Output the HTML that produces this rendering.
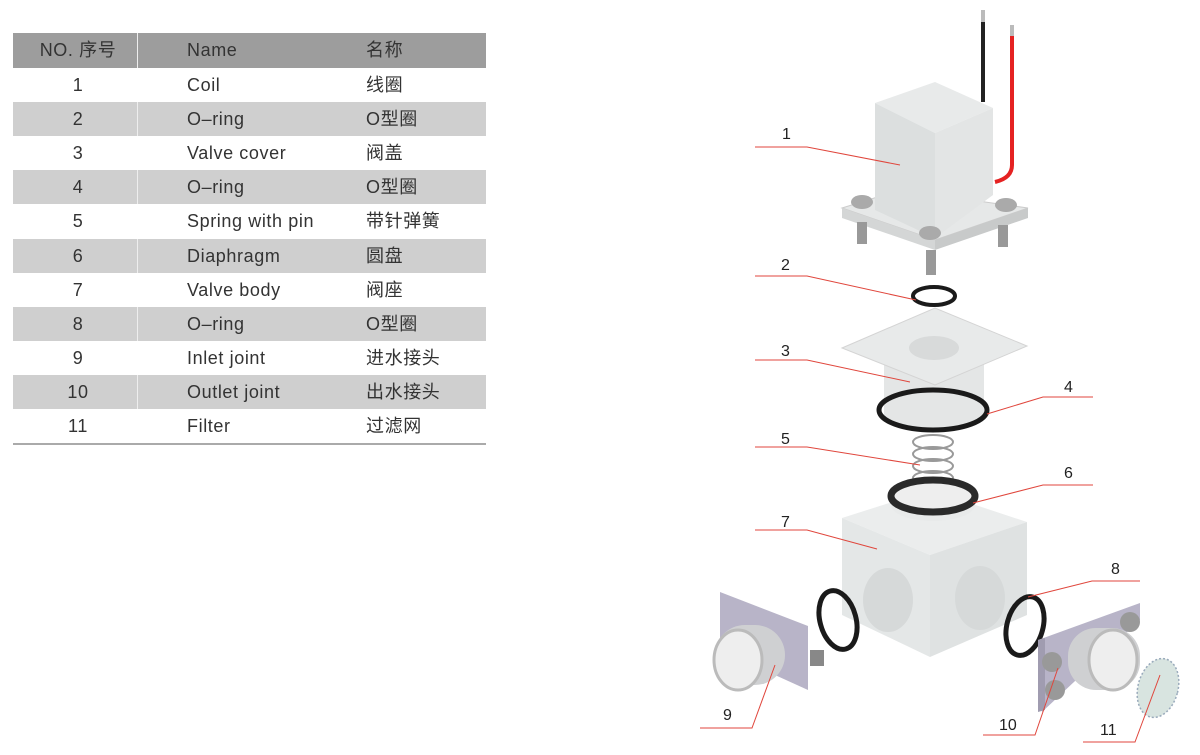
<!DOCTYPE html>
<html><head><meta charset="utf-8"><style>
body{margin:0;width:1200px;height:755px;background:#fff;position:relative;overflow:hidden;font-family:"Liberation Sans","Noto Sans CJK SC",sans-serif;color:#333}
.r{position:absolute;left:13px;width:473px;height:34px;font-size:18px;line-height:34px;letter-spacing:0.6px}
.g{background:#cfcfcf}
.h{background:#9d9d9d}
.r span{position:absolute;top:0}
.a{left:0;width:130px;text-align:center}
.b{left:174px}
.c{left:353px}
.d{position:absolute;left:124px;top:0;width:1px;height:34px;background:#eee}
</style></head><body>
<div class="r h" style="top:33px;height:35px"><span class="a">NO. 序号</span><span class="b">Name</span><span class="c">名称</span><div class="d" style="height:35px"></div></div>
<div class="r" style="top:68px"><span class="a">1</span><span class="b">Coil</span><span class="c">线圈</span></div>
<div class="r g" style="top:102px"><span class="a">2</span><span class="b">O–ring</span><span class="c">O型圈</span><div class="d"></div></div>
<div class="r" style="top:136px"><span class="a">3</span><span class="b">Valve cover</span><span class="c">阀盖</span></div>
<div class="r g" style="top:170px"><span class="a">4</span><span class="b">O–ring</span><span class="c">O型圈</span><div class="d"></div></div>
<div class="r" style="top:204px"><span class="a">5</span><span class="b">Spring with pin</span><span class="c">带针弹簧</span></div>
<div class="r g" style="top:239px"><span class="a">6</span><span class="b">Diaphragm</span><span class="c">圆盘</span><div class="d"></div></div>
<div class="r" style="top:273px"><span class="a">7</span><span class="b">Valve body</span><span class="c">阀座</span></div>
<div class="r g" style="top:307px"><span class="a">8</span><span class="b">O–ring</span><span class="c">O型圈</span><div class="d"></div></div>
<div class="r" style="top:341px"><span class="a">9</span><span class="b">Inlet joint</span><span class="c">进水接头</span></div>
<div class="r g" style="top:375px"><span class="a">10</span><span class="b">Outlet joint</span><span class="c">出水接头</span><div class="d"></div></div>
<div class="r" style="top:409px"><span class="a">11</span><span class="b">Filter</span><span class="c">过滤网</span></div>
<div style="position:absolute;left:13px;top:443px;width:473px;height:2px;background:#aaa"></div>

<svg width="1200" height="755" style="position:absolute;left:0;top:0" xmlns="http://www.w3.org/2000/svg">
<line x1="983" y1="12" x2="983" y2="102" stroke="#222" stroke-width="4"/>
<line x1="983" y1="10" x2="983" y2="22" stroke="#bbb" stroke-width="4"/>
<path d="M1012 30 V165 Q1012 178 995 182" stroke="#e52222" stroke-width="4" fill="none"/>
<line x1="1012" y1="25" x2="1012" y2="36" stroke="#bbb" stroke-width="4"/>
<polygon points="842,208 900,190 1028,208 935,240" fill="#e6e8e8" stroke="#ccc"/>
<polygon points="842,208 935,240 935,250 842,218" fill="#d4d6d6"/>
<polygon points="935,240 1028,208 1028,218 935,250" fill="#c8caca"/>
<g fill="#999"><rect x="857" y="222" width="10" height="22"/><rect x="998" y="225" width="10" height="22"/><rect x="926" y="250" width="10" height="25"/></g>
<polygon points="875,103 935,82 993,108 935,133" fill="#e8eaea"/>
<polygon points="875,103 935,133 935,238 875,210" fill="#dcdfdf"/>
<polygon points="935,133 993,108 993,195 935,238" fill="#e3e5e5"/>
<g fill="#aaa"><ellipse cx="862" cy="202" rx="11" ry="7"/><ellipse cx="1006" cy="205" rx="11" ry="7"/><ellipse cx="930" cy="233" rx="11" ry="7"/></g>
<ellipse cx="934" cy="296" rx="21" ry="9" fill="none" stroke="#1a1a1a" stroke-width="4"/>
<rect x="884" y="355" width="100" height="60" fill="#e4e6e6"/>
<ellipse cx="934" cy="415" rx="50" ry="14" fill="#e4e6e6"/>
<polygon points="842,348 935,308 1027,346 935,385" fill="#e8eaea" stroke="#d4d4d4"/>
<ellipse cx="934" cy="348" rx="25" ry="12" fill="#d8dada"/>
<ellipse cx="933" cy="410" rx="54" ry="20" fill="none" stroke="#1a1a1a" stroke-width="5"/>
<g fill="none" stroke="#999" stroke-width="2"><ellipse cx="933" cy="442" rx="20" ry="7"/><ellipse cx="933" cy="454" rx="20" ry="7"/><ellipse cx="933" cy="466" rx="20" ry="7"/><ellipse cx="933" cy="478" rx="20" ry="7"/></g>
<polygon points="842,518 930,490 1027,522 930,555" fill="#ebeded"/>
<polygon points="842,518 930,555 930,657 842,615" fill="#e4e7e7"/>
<polygon points="930,555 1027,522 1027,615 930,657" fill="#dfe2e2"/>
<ellipse cx="888" cy="600" rx="25" ry="32" fill="#d6d9d9"/>
<ellipse cx="980" cy="598" rx="25" ry="32" fill="#d6d9d9"/>
<ellipse cx="933" cy="505" rx="42" ry="16" fill="#e8eaea"/>
<ellipse cx="933" cy="496" rx="42" ry="16" fill="#eee" stroke="#2a2a2a" stroke-width="7"/>
<ellipse cx="838" cy="620" rx="18" ry="30" transform="rotate(-15 838 620)" fill="none" stroke="#1a1a1a" stroke-width="5"/>
<ellipse cx="1025" cy="626" rx="18" ry="30" transform="rotate(15 1025 626)" fill="none" stroke="#1a1a1a" stroke-width="5"/>
<polygon points="720,592 808,626 808,690 720,650" fill="#b8b4c8"/>
<rect x="715" y="625" width="70" height="60" rx="30" fill="#cfd0d2"/>
<ellipse cx="738" cy="660" rx="24" ry="30" fill="#eee" stroke="#bbb" stroke-width="3"/>
<rect x="810" y="650" width="14" height="16" fill="#888"/>
<polygon points="1038,640 1140,603 1140,620 1042,712" fill="#b8b4c8"/>
<polygon points="1038,640 1045,638 1045,710 1038,712" fill="#a09cb0"/>
<circle cx="1052" cy="662" r="10" fill="#999"/><circle cx="1055" cy="690" r="10" fill="#999"/><circle cx="1130" cy="622" r="10" fill="#999"/>
<rect x="1068" y="628" width="72" height="62" rx="28" fill="#cfd0d2"/>
<ellipse cx="1113" cy="660" rx="24" ry="30" fill="#eee" stroke="#bbb" stroke-width="3"/>
<ellipse cx="1158" cy="688" rx="20" ry="30" transform="rotate(15 1158 688)" fill="#d8e4e0" stroke="#9ab" stroke-width="1.5" stroke-dasharray="2 2"/>
<g fill="none" stroke="#e0463c" stroke-width="1">
<polyline points="755,147 807,147 900,165"/>
<polyline points="755,276 807,276 916,300"/>
<polyline points="755,360 807,360 910,382"/>
<polyline points="1093,397 1043,397 987,414"/>
<polyline points="755,447 807,447 920,465"/>
<polyline points="1093,485 1043,485 973,503"/>
<polyline points="755,530 807,530 877,549"/>
<polyline points="1140,581 1092,581 1028,597"/>
<polyline points="700,728 752,728 775,665"/>
<polyline points="983,735 1035,735 1058,668"/>
<polyline points="1083,742 1135,742 1160,675"/>
</g>
<g font-family="Liberation Sans, sans-serif" font-size="16" fill="#222">
<text x="782" y="139">1</text><text x="781" y="270">2</text><text x="781" y="356">3</text>
<text x="1064" y="392">4</text><text x="781" y="444">5</text><text x="1064" y="478">6</text>
<text x="781" y="527">7</text><text x="1111" y="574">8</text><text x="723" y="720">9</text>
<text x="999" y="730">10</text><text x="1100" y="735">11</text>
</g>
</svg>
</body></html>
